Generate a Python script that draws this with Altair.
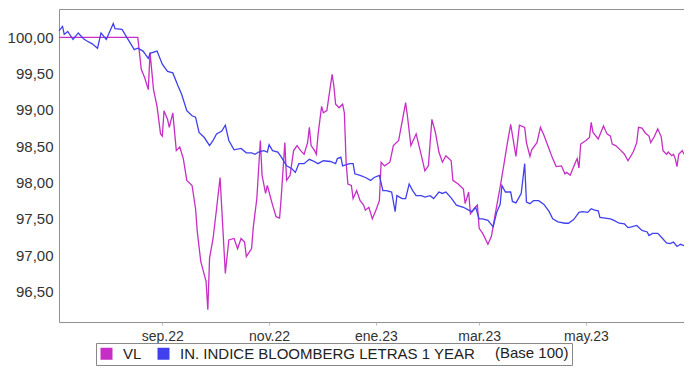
import altair as alt
import pandas as pd

# ---- data ----
vl_dates = ["2022-07-04","2022-08-18","2022-08-20","2022-08-22","2022-08-24","2022-08-25","2022-08-27","2022-08-29","2022-08-31","2022-09-01",
            "2022-09-02","2022-09-04","2022-09-05","2022-09-07","2022-09-09","2022-09-11","2022-09-13","2022-09-15","2022-09-18","2022-09-20",
            "2022-09-21","2022-09-23","2022-09-26","2022-09-27","2022-09-28","2022-09-30","2022-10-02","2022-10-04","2022-10-07","2022-10-09",
            "2022-10-12","2022-10-14","2022-10-16","2022-10-18","2022-10-19","2022-10-22","2022-10-23","2022-10-25","2022-10-27","2022-10-28",
            "2022-10-30","2022-10-31","2022-11-03","2022-11-05","2022-11-07","2022-11-08","2022-11-10","2022-11-11","2022-11-13","2022-11-15",
            "2022-11-17","2022-11-19","2022-11-21","2022-11-23","2022-11-24","2022-11-25","2022-11-27","2022-11-28","2022-11-29","2022-12-01",
            "2022-12-02","2022-12-04","2022-12-07","2022-12-08","2022-12-09","2022-12-11","2022-12-13","2022-12-14","2022-12-15","2022-12-16",
            "2022-12-18","2022-12-19","2022-12-21","2022-12-23","2022-12-25","2022-12-26","2022-12-28","2022-12-30","2023-01-01","2023-01-03",
            "2023-01-04","2023-01-06","2023-01-09","2023-01-11","2023-01-14","2023-01-18","2023-01-19","2023-01-21","2023-01-24","2023-01-27",
            "2023-01-29","2023-01-31","2023-02-02","2023-02-04","2023-02-06","2023-02-08","2023-02-10","2023-02-13","2023-02-14","2023-02-17",
            "2023-02-20","2023-02-21","2023-02-23","2023-02-24","2023-02-26","2023-02-28","2023-03-01","2023-03-03","2023-03-06","2023-03-08",
            "2023-03-10","2023-03-13","2023-03-15","2023-03-17","2023-03-19","2023-03-22","2023-03-24","2023-03-27","2023-03-28","2023-03-30",
            "2023-03-31","2023-04-03","2023-04-05","2023-04-07","2023-04-10","2023-04-12","2023-04-14","2023-04-17","2023-04-19","2023-04-20",
            "2023-04-22","2023-04-25","2023-04-26","2023-04-27","2023-04-28","2023-05-01","2023-05-03","2023-05-04","2023-05-05","2023-05-08",
            "2023-05-11","2023-05-13","2023-05-15","2023-05-16","2023-05-18","2023-05-21","2023-05-23","2023-05-25","2023-05-28","2023-05-30",
            "2023-05-31","2023-06-02","2023-06-04","2023-06-06","2023-06-07","2023-06-09","2023-06-11","2023-06-13","2023-06-14","2023-06-16",
            "2023-06-17","2023-06-19","2023-06-20","2023-06-21","2023-06-22","2023-06-23","2023-06-25","2023-06-26"]
vl_values = [100.00,100.00,99.56,99.44,99.28,99.79,99.28,99.05,98.67,98.64,
             98.99,98.87,98.76,98.96,98.44,98.49,98.33,98.03,97.96,97.64,
             97.32,96.91,96.64,96.25,96.96,97.23,97.64,98.07,96.75,97.21,
             97.23,97.09,97.23,97.18,96.98,97.09,97.39,97.78,98.58,98.10,
             97.85,97.96,97.69,97.53,97.51,97.82,98.55,98.03,98.10,98.44,
             98.51,98.44,98.39,98.55,98.76,98.51,98.44,98.39,98.67,99.05,
             98.96,98.99,99.49,99.33,99.08,99.03,99.08,98.96,98.28,97.98,
             97.96,97.78,97.89,97.75,97.69,97.62,97.66,97.50,97.62,97.75,
             98.28,98.23,98.28,98.51,98.58,99.10,98.92,98.51,98.67,98.37,
             98.16,98.23,98.87,98.69,98.42,98.28,98.37,98.30,98.03,97.98,
             97.91,97.71,97.87,97.57,97.64,97.69,97.37,97.30,97.15,97.26,
             97.54,97.94,98.23,98.53,98.80,98.36,98.79,98.76,98.55,98.36,
             98.45,98.55,98.76,98.65,98.46,98.33,98.22,98.23,98.12,98.14,
             98.10,98.28,98.33,98.20,98.53,98.58,98.62,98.83,98.69,98.60,
             98.78,98.67,98.64,98.53,98.51,98.44,98.39,98.30,98.42,98.55,
             98.76,98.75,98.68,98.64,98.55,98.63,98.74,98.63,98.44,98.39,
             98.42,98.37,98.39,98.33,98.22,98.39,98.44,98.39]

idx_dates = ["2022-07-04","2022-07-06","2022-07-07","2022-07-09","2022-07-12","2022-07-15","2022-07-18","2022-07-20","2022-07-23","2022-07-26",
             "2022-07-28","2022-07-31","2022-08-04","2022-08-05","2022-08-09","2022-08-12","2022-08-16","2022-08-18","2022-08-21","2022-08-24",
             "2022-08-25","2022-08-29","2022-09-01","2022-09-04","2022-09-07","2022-09-10","2022-09-12","2022-09-15","2022-09-18","2022-09-20",
             "2022-09-22","2022-09-25","2022-09-28","2022-09-30","2022-10-02","2022-10-05","2022-10-07","2022-10-09","2022-10-12","2022-10-16",
             "2022-10-19","2022-10-22","2022-10-24","2022-10-26","2022-10-29","2022-10-31","2022-11-01","2022-11-03","2022-11-06","2022-11-08",
             "2022-11-11","2022-11-14","2022-11-16","2022-11-18","2022-11-21","2022-11-24","2022-11-26","2022-11-29","2022-12-02","2022-12-06",
             "2022-12-09","2022-12-10","2022-12-12","2022-12-13","2022-12-17","2022-12-19","2022-12-20","2022-12-23","2022-12-26","2022-12-29",
             "2022-12-31","2023-01-03","2023-01-05","2023-01-07","2023-01-10","2023-01-12","2023-01-13","2023-01-16","2023-01-18","2023-01-20",
             "2023-01-22","2023-01-24","2023-01-27","2023-01-29","2023-02-01","2023-02-03","2023-02-06","2023-02-08","2023-02-10","2023-02-13",
             "2023-02-16","2023-02-20","2023-02-23","2023-02-25","2023-02-27","2023-03-01","2023-03-03","2023-03-06","2023-03-09","2023-03-11",
             "2023-03-13","2023-03-14","2023-03-16","2023-03-19","2023-03-20","2023-03-22","2023-03-25","2023-03-27","2023-03-28","2023-03-30",
             "2023-04-01","2023-04-04","2023-04-07","2023-04-10","2023-04-12","2023-04-15","2023-04-19","2023-04-21","2023-04-24","2023-04-27",
             "2023-04-29","2023-05-02","2023-05-04","2023-05-06","2023-05-08","2023-05-09","2023-05-12","2023-05-15","2023-05-17","2023-05-20",
             "2023-05-23","2023-05-25","2023-05-27","2023-05-30","2023-06-02","2023-06-05","2023-06-06","2023-06-08","2023-06-11","2023-06-13",
             "2023-06-16","2023-06-18","2023-06-20","2023-06-22","2023-06-24","2023-06-26"]
idx_values = [100.09,100.15,100.04,100.08,99.97,100.06,99.98,99.95,99.91,99.85,
              100.06,99.97,100.19,100.12,100.11,99.99,99.83,99.85,99.81,99.71,
              99.78,99.81,99.63,99.53,99.51,99.33,99.22,98.99,98.92,98.90,
              98.69,98.62,98.51,98.58,98.67,98.71,98.79,98.58,98.45,98.47,
              98.41,98.41,98.39,98.42,98.44,98.42,98.52,98.44,98.42,98.35,
              98.23,98.19,98.14,98.26,98.26,98.32,98.30,98.26,98.30,98.29,
              98.26,98.33,98.35,98.23,98.26,98.26,98.12,98.10,98.07,98.03,
              98.07,98.10,97.89,97.89,97.87,97.60,97.82,97.78,97.78,97.98,
              97.89,97.82,97.82,97.80,97.82,97.78,97.87,97.85,97.87,97.79,
              97.69,97.66,97.62,97.60,97.66,97.50,97.50,97.48,97.39,97.59,
              97.70,97.96,97.87,97.87,97.74,97.72,97.85,98.26,97.73,97.71,
              97.75,97.75,97.70,97.60,97.50,97.46,97.44,97.44,97.49,97.59,
              97.60,97.59,97.64,97.62,97.61,97.52,97.51,97.50,97.48,97.44,
              97.43,97.38,97.39,97.41,97.34,97.32,97.27,97.30,97.30,97.25,
              97.17,97.16,97.18,97.12,97.15,97.13]

series_names = ["VL", "IN. INDICE BLOOMBERG LETRAS 1 YEAR"]
series_colors = ["#C62EC6", "#4040EE"]
y_ticks = [96.5, 97.0, 97.5, 98.0, 98.5, 99.0, 99.5, 100.0]
y_domain = [96.08, 100.39]
month_names = ["ene", "feb", "mar", "abr", "may", "jun", "jul", "ago", "sep", "oct", "nov", "dic"]

df = pd.concat([
    pd.DataFrame({"fecha": vl_dates, "valor": vl_values, "serie": series_names[0]}),
    pd.DataFrame({"fecha": idx_dates, "valor": idx_values, "serie": series_names[1]}),
], ignore_index=True)

FONT = "Liberation Sans"

x_enc = alt.X(
    "fecha:T",
    scale=alt.Scale(
        type="utc",
        domain=[alt.DateTime(year=2022, month=7, date=4, utc=True),
                alt.DateTime(year=2023, month=6, date=26, utc=True)],
        nice=False,
    ),
    axis=alt.Axis(
        title=None,
        values=[alt.DateTime(year=2022, month=9, date=1, utc=True),
                alt.DateTime(year=2022, month=11, date=1, utc=True),
                alt.DateTime(year=2023, month=1, date=1, utc=True),
                alt.DateTime(year=2023, month=3, date=1, utc=True),
                alt.DateTime(year=2023, month=5, date=1, utc=True)],
        labelExpr="[" + ",".join("'%s'" % m for m in month_names) + "][utcmonth(datum.value)] + '.' + utcFormat(datum.value, '%y')",
        domain=False,
        tickSize=3,
        tickColor="#bbbbbb",
        labelFont=FONT,
        labelFontSize=14,
        labelColor="#333333",
        labelPadding=4,
        grid=False,
    ),
)
y_enc = alt.Y(
    "valor:Q",
    scale=alt.Scale(domain=y_domain, nice=False, zero=False),
    axis=alt.Axis(
        title=None,
        values=y_ticks,
        labelExpr="replace(format(datum.value, '.2f'), '.', ',')",
        domain=False,
        ticks=False,
        labelFont=FONT,
        labelFontSize=15,
        labelColor="#333333",
        labelPadding=6,
        grid=False,
    ),
)
color_scale = alt.Scale(domain=series_names, range=series_colors)

lines = alt.Chart(df).mark_line(strokeWidth=1.3).encode(
    x=x_enc,
    y=y_enc,
    color=alt.Color("serie:N", scale=color_scale),
)

legend_pts = alt.Chart(df).mark_point(shape="square", filled=True, size=0, opacity=1).encode(
    x=x_enc,
    y=y_enc,
    color=alt.Color(
        "serie:N",
        scale=color_scale,
        legend=alt.Legend(
            orient="none",
            legendX=37,
            legendY=334,
            direction="horizontal",
            title="(Base 100)",
            titleOrient="right",
            titleFont=FONT,
            titleFontSize=15,
            titleFontWeight="normal",
            titleColor="#222222",
            titlePadding=20,
            titleBaseline="top",
            titleAnchor="start",
            labelFont=FONT,
            labelFontSize=15,
            labelColor="#222222",
            labelOffset=9,
            labelLimit=500,
            columnPadding=14,
            symbolType="square",
            symbolSize=144,
            symbolStrokeWidth=0,
            symbolOpacity=1,
            strokeColor="#888888",
            fillColor="white",
            padding=3,
        ),
    ),
)

chart = alt.layer(lines, legend_pts).properties(
    width=625,
    height=313,
    autosize=alt.AutoSizeParams(type="none"),
    padding={"left": 51, "top": 1, "right": 0, "bottom": 53},
    background="white",
).configure_view(
    stroke="#909090",
    strokeWidth=1,
)

chart.save("out.html", embed_options={"renderer": "svg", "actions": False})
